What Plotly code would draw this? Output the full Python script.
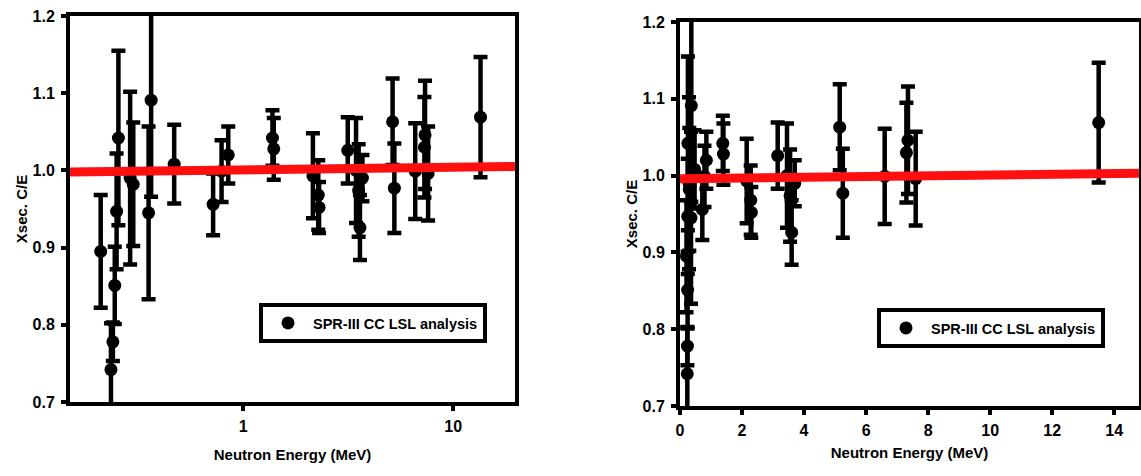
import plotly.graph_objects as go
import math

# Data
energy = [0.21, 0.235, 0.24, 0.245, 0.25, 0.255, 0.29, 0.30, 0.355, 0.365,
          0.47, 0.72, 0.79, 0.85, 1.38, 1.40, 2.15, 2.28, 2.30, 3.15,
          3.45, 3.55, 3.60, 3.70, 5.15, 5.25, 6.60, 7.30, 7.35, 7.60, 13.5]
ratio = [0.895, 0.742, 0.778, 0.851, 0.947, 1.042, 0.990, 0.982, 0.945, 1.091,
         1.008, 0.956, 0.999, 1.020, 1.042, 1.028, 0.993, 0.968, 0.952, 1.026,
         1.000, 0.974, 0.926, 0.990, 1.063, 0.977, 0.999, 1.030, 1.046, 0.996, 1.069]
err = [0.073, 0.060, 0.025, 0.050, 0.075, 0.113, 0.112, 0.080, 0.112, 0.125,
       0.051, 0.040, 0.040, 0.037, 0.036, 0.040, 0.055, 0.045, 0.033, 0.043,
       0.068, 0.060, 0.042, 0.030, 0.056, 0.058, 0.062, 0.065, 0.070, 0.061, 0.078]

fit_x_log = [0.15, 19.7]
fit_y_log = [0.998, 1.005]
fit_x_lin = [0.0, 14.8]
fit_y_lin = [0.996, 1.003]

y_ticks = [0.7, 0.8, 0.9, 1.0, 1.1, 1.2]
y_ticktext = ["0.7", "0.8", "0.9", "1.0", "1.1", "1.2"]
x_ticks_log = [1, 10]
x_ticks_lin = [0, 2, 4, 6, 8, 10, 12, 14]

series_name = "SPR-III CC LSL analysis"
x_title = "Neutron Energy (MeV)"
y_title = "Xsec. C/E"

FONT = "Liberation Sans, Arial, sans-serif"
W, H = 1141, 476

fig = go.Figure()

def add_points(xa, ya, legend, show):
    fig.add_trace(go.Scatter(
        x=energy, y=ratio, mode="markers", name=series_name,
        xaxis=xa, yaxis=ya, legend=legend, showlegend=show,
        marker=dict(color="black", size=13, symbol="circle"),
        error_y=dict(type="data", array=err, visible=True, color="black",
                     thickness=4.5, width=7),
    ))

add_points("x", "y", "legend", True)
fig.add_trace(go.Scatter(x=fit_x_log, y=fit_y_log, mode="lines", xaxis="x", yaxis="y",
                         line=dict(color="#ff1010", width=9), showlegend=False))
add_points("x2", "y2", "legend2", True)
fig.add_trace(go.Scatter(x=fit_x_lin, y=fit_y_lin, mode="lines", xaxis="x2", yaxis="y2",
                         line=dict(color="#ff1010", width=9), showlegend=False))

def px_x(p):
    return p / W

def px_y(p):
    return 1 - p / H

axis_common = dict(showline=True, linecolor="black", linewidth=4, mirror=True,
                   ticks="outside", ticklen=5, tickwidth=4, tickcolor="black",
                   showgrid=False, zeroline=False, automargin=False,
                   tickfont=dict(family=FONT, size=16, color="black", weight="bold"))

title_font = dict(family=FONT, size=15, color="black", weight="bold")
legend_font = dict(family=FONT, size=14.5, color="black", weight="bold")

fig.update_layout(
    width=W, height=H, margin=dict(l=0, r=0, t=0, b=0),
    paper_bgcolor="white", plot_bgcolor="white",
    font=dict(family=FONT, color="black"),
    xaxis=dict(domain=[px_x(70), px_x(515)], anchor="y", type="log",
               range=[math.log10(0.15), math.log10(19.7)],
               tickvals=x_ticks_log, ticktext=[str(v) for v in x_ticks_log],
               ticklabelstandoff=2,
               title=dict(text=x_title, font=title_font, standoff=16),
               **axis_common),
    yaxis=dict(domain=[px_y(402), px_y(16)], anchor="x", range=[0.7, 1.2],
               tickvals=y_ticks, ticktext=y_ticktext, ticklabelstandoff=3,
               title=dict(text=y_title, font=title_font, standoff=2),
               **axis_common),
    xaxis2=dict(domain=[px_x(680), px_x(1139)], anchor="y2", range=[0, 14.8],
                tickvals=x_ticks_lin, ticklabelstandoff=2,
                title=dict(text=x_title, font=title_font, standoff=10),
                **axis_common),
    yaxis2=dict(domain=[px_y(406), px_y(22)], anchor="x2", range=[0.7, 1.2],
                tickvals=y_ticks, ticktext=y_ticktext, ticklabelstandoff=3,
                title=dict(text=y_title, font=title_font, standoff=2),
                **axis_common),
    legend=dict(x=px_x(259), y=px_y(303), xanchor="left", yanchor="top",
                bgcolor="white", bordercolor="black", borderwidth=4,
                font=legend_font, itemwidth=40),
    legend2=dict(x=px_x(877), y=px_y(308), xanchor="left", yanchor="top",
                 bgcolor="white", bordercolor="black", borderwidth=4,
                 font=legend_font, itemwidth=40),
)

fig.write_html("out.html")
